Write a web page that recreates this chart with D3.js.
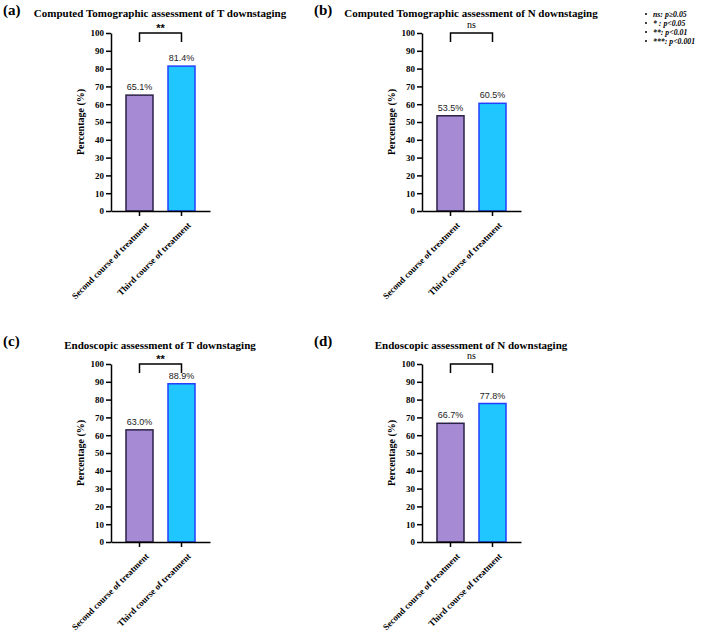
<!DOCTYPE html>
<html><head><meta charset="utf-8">
<script src="https://cdn.jsdelivr.net/npm/d3@7"></script>
<style>body{margin:0;background:#fff}svg{display:block}</style>
</head><body>
<svg id="c" width="709" height="632"></svg>
<script>
const categories = ["Second course of treatment", "Third course of treatment"];
const panelLetters = ["(a)", "(b)", "(c)", "(d)"];
const panelTitles = [
  "Computed Tomographic assessment of T downstaging",
  "Computed Tomographic assessment of N downstaging",
  "Endoscopic assessment of T downstaging",
  "Endoscopic assessment of N downstaging"
];
const valuesA = [65.1, 81.4];
const valuesB = [53.5, 60.5];
const valuesC = [63.0, 88.9];
const valuesD = [66.7, 77.8];
const significance = ["**", "ns", "**", "ns"];
const yTicks = [0,10,20,30,40,50,60,70,80,90,100];
const legendItems = ["ns: p\u22650.05", "* : p<0.05", "**: p<0.01", "***: p<0.001"];

const allValues = [valuesA, valuesB, valuesC, valuesD];
const offsets = [[0,0],[311,0],[0,331],[311,331]];
const titleBase = [17,17,18,18];
const fills = ["#a68ad4", "#1fc6ff"];
const strokes = ["#2b2148", "#2340ff"];

const svg = d3.select("#c");
const serif = "'Liberation Serif','Times New Roman',serif";
const sans = "'Liberation Sans',Arial,sans-serif";

const x = d3.scaleBand().domain(categories).range([111,210]).paddingInner(0.357).paddingOuter(0.357);
const y = d3.scaleLinear().domain([0,100]).range([211,33]);

allValues.forEach((vals, i) => {
  const g = svg.append("g").attr("transform", `translate(${offsets[i][0]},${offsets[i][1]})`);
  g.append("text").attr("x", 3).attr("y", 15).attr("font-family", serif).attr("font-weight", "bold")
    .attr("font-size", 15).text(panelLetters[i]);
  g.append("text").attr("x", 160).attr("y", titleBase[i]).attr("text-anchor", "middle")
    .attr("font-family", serif).attr("font-weight", "bold").attr("font-size", 11).text(panelTitles[i]);

  // bars
  g.selectAll("rect.bar").data(vals).enter().append("rect")
    .attr("x", (d,j) => x(categories[j])).attr("width", x.bandwidth())
    .attr("y", d => y(d)).attr("height", d => y(0) - y(d))
    .attr("fill", (d,j) => fills[j]).attr("stroke", (d,j) => strokes[j]).attr("stroke-width", 1.5);
  g.selectAll("text.val").data(vals).enter().append("text")
    .attr("x", (d,j) => x(categories[j]) + x.bandwidth()/2).attr("y", d => y(d) - 5)
    .attr("text-anchor", "middle").attr("font-family", sans).attr("font-size", 9).attr("fill", "#222")
    .text(d => d.toFixed(1) + "%");

  // axes
  const ya = g.append("g").attr("transform", "translate(111,0)")
    .call(d3.axisLeft(y).tickValues(yTicks).tickSize(5).tickSizeOuter(0).tickPadding(2));
  ya.select(".domain").attr("stroke-width", 1.5);
  ya.selectAll(".tick line").attr("stroke-width", 1.5);
  ya.selectAll("text").attr("font-family", serif).attr("font-weight", "bold").attr("font-size", 9).attr("fill", "#000");

  const xa = g.append("g").attr("transform", "translate(0,211)")
    .call(d3.axisBottom(x).tickSize(5).tickSizeOuter(0).tickPadding(2));
  xa.select(".domain").attr("stroke-width", 1.5);
  xa.selectAll(".tick line").attr("stroke-width", 1.5);
  xa.selectAll("text").attr("font-family", serif).attr("font-weight", "bold").attr("font-size", 9).attr("fill", "#000")
    .attr("text-anchor", "end").attr("dy", "0.3em")
    .attr("transform", "translate(3,8) rotate(-45)");

  g.append("text").attr("transform", `translate(84,${(y(0)+y(100))/2}) rotate(-90)`)
    .attr("text-anchor", "middle").attr("font-family", serif).attr("font-weight", "bold").attr("font-size", 10)
    .text("Percentage (%)");

  // significance bracket
  const x1 = x(categories[0]) + x.bandwidth()/2, x2 = x(categories[1]) + x.bandwidth()/2;
  const by = y(100);
  g.append("path").attr("d", `M${x1},${by+9}V${by}H${x2}V${by+9}`).attr("fill", "none")
    .attr("stroke", "#000").attr("stroke-width", 1.5);
  const isNs = significance[i] === "ns";
  g.append("text").attr("x", (x1+x2)/2).attr("y", by - (isNs ? 5 : 1)).attr("text-anchor", "middle")
    .attr("font-family", isNs ? serif : sans).attr("font-weight", isNs ? "normal" : "bold")
    .attr("font-size", isNs ? 10 : 11).text(significance[i]);
});

// legend
const lg = svg.append("g");
legendItems.forEach((t, k) => {
  const yy = 14 + k * 9;
  lg.append("circle").attr("cx", 646).attr("cy", yy).attr("r", 1).attr("fill", "#000");
  lg.append("text").attr("x", 653).attr("y", yy + 3).attr("font-family", serif).attr("font-weight", "bold")
    .attr("font-style", "italic").attr("font-size", 7.8).text(t);
});
</script>
</body></html>
